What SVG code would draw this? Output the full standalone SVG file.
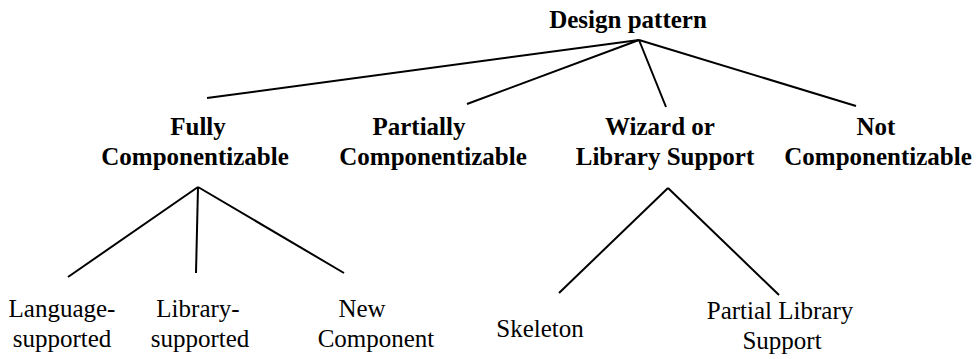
<svg xmlns="http://www.w3.org/2000/svg" width="977" height="359" viewBox="0 0 977 359">
<style>
.b { font-weight: bold; font-size: 25px; }
.r { font-size: 25px; }
.edge { stroke: #000; stroke-width: 2; fill: none; }
</style>
<rect width="977" height="359" fill="#fff"/>
<g id="connectors">
<line class="edge" x1="639" y1="40" x2="207" y2="98"/>
<line class="edge" x1="639" y1="40" x2="467" y2="104"/>
<line class="edge" x1="639" y1="40" x2="666" y2="107"/>
<line class="edge" x1="639" y1="40" x2="856" y2="106"/>
<line class="edge" x1="198" y1="187" x2="68" y2="277"/>
<line class="edge" x1="198" y1="187" x2="196" y2="273"/>
<line class="edge" x1="198" y1="187" x2="344" y2="273"/>
<line class="edge" x1="668" y1="188" x2="559" y2="293"/>
<line class="edge" x1="668" y1="188" x2="779" y2="295"/>
</g>
<g font-family="Liberation Serif, serif" text-anchor="middle" fill="#000">
<g id="root"><text class="b" x="628" y="28">Design pattern</text></g>
<g id="fully"><text class="b" x="198" y="135">Fully</text><text class="b" x="195" y="165">Componentizable</text></g>
<g id="partially"><text class="b" x="419" y="135">Partially</text><text class="b" x="433" y="165">Componentizable</text></g>
<g id="wizard"><text class="b" x="660" y="135">Wizard or</text><text class="b" x="665" y="165">Library Support</text></g>
<g id="not"><text class="b" x="876" y="135">Not</text><text class="b" x="878" y="165">Componentizable</text></g>
<g id="language"><text class="r" x="62" y="317">Language-</text><text class="r" x="62" y="347">supported</text></g>
<g id="library"><text class="r" x="198" y="317">Library-</text><text class="r" x="200" y="347">supported</text></g>
<g id="newcomp"><text class="r" x="362" y="317">New</text><text class="r" x="376" y="347">Component</text></g>
<g id="skeleton"><text class="r" x="540" y="337">Skeleton</text></g>
<g id="partiallib"><text class="r" x="780" y="319">Partial Library</text><text class="r" x="782" y="349">Support</text></g>
</g>
</svg>
